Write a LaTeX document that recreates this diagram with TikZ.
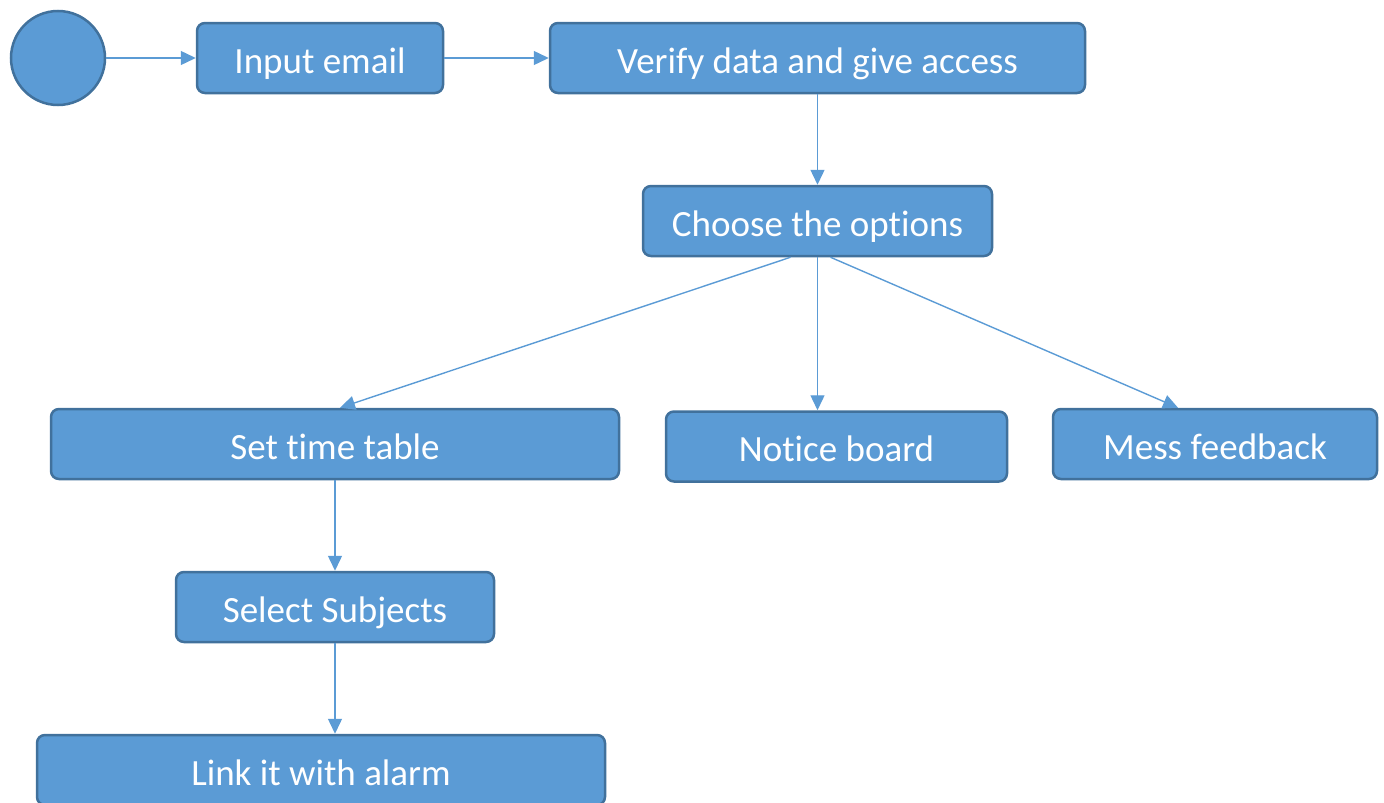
\documentclass[tikz,border=0pt]{standalone}
\usepackage{fontspec}
\setmainfont[Ligatures=NoCommon]{Carlito}
\usetikzlibrary{arrows.meta}
\definecolor{boxfill}{HTML}{5B9BD5}
\definecolor{boxline}{HTML}{41719C}

\begin{document}
\begin{tikzpicture}[x=1pt,y=-1pt,
  act/.style={draw=boxline,fill=boxfill,line width=2.5pt,rounded corners=8pt,
    minimum height=70pt,inner sep=0pt,text height=30pt,text depth=0pt,
    text=white,font=\fontsize{37}{44}\selectfont},
  flow/.style={draw=boxfill,line width=1.4pt,-{Triangle[length=15pt,width=14pt]}}]
  \useasboundingbox (0,0) rectangle (1384,803);
  \clip (0,0) rectangle (1384,803);
  \node[circle,draw=boxline,fill=boxfill,line width=2.5pt,minimum size=94pt,inner sep=0pt] (start) at (58,58) {};
  \node[act,minimum width=246pt] (email) at (320,58) {Input email};
  \node[act,minimum width=535pt] (verify) at (817.5,58) {Verify data and give access};
  \node[act,minimum width=349pt] (choose) at (817.5,221) {Choose the options};
  \node[act,minimum width=568pt] (timetable) at (335,444) {Set time table};
  \node[act,minimum width=341pt] (notice) at (836.5,446.5) {Notice board};
  \node[act,minimum width=324pt] (mess) at (1215,444) {Mess feedback};
  \node[act,minimum width=318pt] (subjects) at (335,607) {Select Subjects};
  \node[act,minimum width=568pt] (alarm) at (321,770) {Link it with alarm};
  \draw[flow] (start) -- (email);
  \draw[flow] (email) -- (verify);
  \draw[flow] (verify) -- (choose);
  \draw[flow] ([xshift=-27pt]choose.south) -- ([xshift=5pt]timetable.north);
  \draw[flow] (choose.south) -- (choose.south |- notice.north);
  \draw[flow] ([xshift=13pt]choose.south) -- ([xshift=-37pt]mess.north);
  \draw[flow] (timetable) -- (subjects);
  \draw[flow] (subjects) -- (subjects.south |- alarm.north);
\end{tikzpicture}
\end{document}
